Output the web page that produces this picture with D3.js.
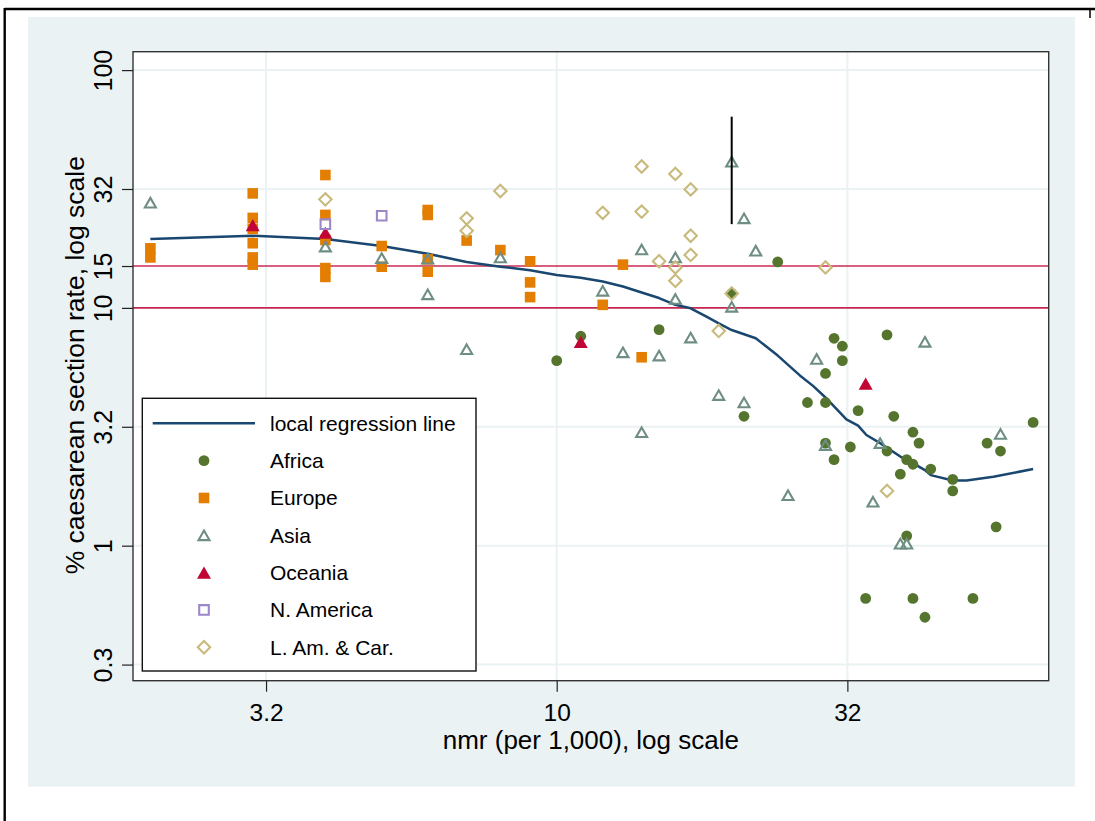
<!DOCTYPE html>
<html>
<head>
<meta charset="utf-8">
<script src="https://cdn.jsdelivr.net/npm/d3@7"></script>
<style>
html,body{margin:0;padding:0;background:#fff;}
svg{display:block;}
text{font-family:"Liberation Sans",Arial,Helvetica,sans-serif;fill:#000;}
</style>
</head>
<body>
<svg id="chart" width="1095" height="821"></svg>
<script>
// ---------- data (nmr per 1,000 ; % caesarean section rate) ----------
const categories = ["Africa","Europe","Asia","Oceania","N. America","L. Am. & Car."];
const lineLabel = "local regression line";

const africa = [[10,6.0],[11,7.6],[15,8.1],[20,11.5],[21,3.5],[24,15.6],[27,4.0],[29,5.3],[29,4.0],[29,2.7],[30,7.45],[30,2.3],[31,6.9],[31,6.0],[32,2.6],[33,3.7],[34,0.6],[37,7.7],[37,2.5],[38,3.5],[39,2.0],[40,2.3],[40,1.1],[41,3.0],[41,2.2],[41,0.6],[42,2.7],[43,0.5],[44,2.1],[48,1.9],[48,1.7],[52,0.6],[55,2.7],[57,1.2],[58,2.5],[66,3.3]];
const europe = [[2,17.8],[2,16.3],[3,30.3],[3,23.9],[3,21.5],[3,18.7],[3,16.3],[3,15.2],[4,36.2],[4,24.6],[4,19.3],[4,14.7],[4,13.5],[5,18.2],[5,14.9],[6,25.8],[6,24.6],[6,16.0],[6,14.2],[7,19.2],[8,17.5],[9,15.7],[9,12.8],[9,11.1],[12,10.3],[13,15.2],[14,6.2]];
const asia = [[2,27.7],[4,18.1],[5,16.2],[6,16.1],[6,11.4],[7,6.7],[8,16.3],[12,11.8],[13,6.5],[14,17.6],[14,3.0],[15,6.3],[16,16.3],[16,10.9],[17,7.5],[19,4.3],[20,41.2],[20,10.1],[21,23.8],[21,4.0],[22,17.4],[25,1.63],[28,6.1],[29,2.65],[35,1.53],[36,2.7],[39,1.02],[40,1.02],[43,7.2],[58,2.95]];
const oceania = [[3,22.3],[4,20.7],[11,7.2],[34,4.8]];
const nAmerica = [[4,22.5],[5,24.4]];
const latAm = [[4,28.6],[7,23.8],[7,21.1],[8,31.0],[12,25.1],[14,39.3],[14,25.4],[15,15.7],[16,36.6],[16,14.8],[16,13.0],[17,31.5],[17,20.1],[17,16.7],[19,8.0],[20,11.5],[29,14.8],[37,1.7]];
const loess = [[2.0,19.5],[3.0,20.1],[4.0,19.5],[5.0,18.2],[6.0,16.9],[7.0,15.6],[8.0,14.9],[9.0,14.4],[10,13.75],[11,13.4],[12,12.9],[13,12.3],[14,11.6],[15,11.0],[16,10.3],[17,9.96],[18.1,9.18],[19,8.6],[20,8.07],[22,7.45],[24,6.3],[26.2,5.2],[27.6,4.7],[29,4.2],[31.5,3.4],[33,3.2],[34.1,2.92],[36,2.7],[39,2.37],[40,2.3],[43,2.08],[44,1.98],[48,1.88],[50.7,1.88],[56.4,1.95],[66,2.1]];
const refLines = [15, 10];
const rangeBar = [20, 22.5, 63.7]; // x, low, high

const yTickValues = [Math.sqrt(0.1), 1, Math.sqrt(10), 10, 15, Math.sqrt(1000), 100];
const yTickLabels = ["0.3","1","3.2","10","15","32","100"];
const yGridValues = [Math.sqrt(0.1), 1, Math.sqrt(10), 10, Math.sqrt(1000), 100];
const xTickValues = [Math.sqrt(10), 10, Math.sqrt(1000)];
const xTickLabels = ["3.2","10","32"];
const xTitle = "nmr (per 1,000), log scale";
const yTitle = "% caesarean section rate, log scale";

// ---------- layout ----------
const L = 133, R = 1048.7, T = 51.7, B = 680.7;
const svg = d3.select("#chart");

// outer frame + panel
svg.append("rect").attr("x",28).attr("y",17).attr("width",1047).attr("height",769.7).attr("fill","#eaf2f3");
svg.append("line").attr("x1",4.7).attr("x2",1095).attr("y1",9).attr("y2",9).attr("stroke","#000").attr("stroke-width",2.4);
svg.append("line").attr("x1",4.7).attr("x2",4.7).attr("y1",8).attr("y2",821).attr("stroke","#000").attr("stroke-width",2.4);
svg.append("line").attr("x1",1090).attr("x2",1090).attr("y1",8).attr("y2",18).attr("stroke","#000").attr("stroke-width",1.5);

svg.append("rect").attr("x",L).attr("y",T).attr("width",R-L).attr("height",B-T).attr("fill","#fff");

const x = d3.scaleLog().domain([1.867, 70.2]).range([L, R]);
const y = d3.scaleLog().domain([0.2705, 119.5]).range([B, T]);

// grid
const grid = svg.append("g");
grid.selectAll("line.gy").data(yGridValues).enter().append("line")
  .attr("x1",L).attr("x2",R).attr("y1",d=>y(d)).attr("y2",d=>y(d))
  .attr("stroke","#eaf2f3").attr("stroke-width",2);
grid.selectAll("line.gx").data(xTickValues).enter().append("line")
  .attr("y1",T).attr("y2",B).attr("x1",d=>x(d)).attr("x2",d=>x(d))
  .attr("stroke","#eaf2f3").attr("stroke-width",2);

// reference lines
svg.append("g").selectAll("line").data(refLines).enter().append("line")
  .attr("x1",L).attr("x2",R).attr("y1",d=>y(d)).attr("y2",d=>y(d))
  .attr("stroke","#c10534").attr("stroke-width",1.6).attr("stroke-opacity",0.85);

// local regression line
svg.append("path").datum(loess)
  .attr("d", d3.line().x(d=>x(d[0])).y(d=>y(d[1])))
  .attr("fill","none").attr("stroke","#1a476f").attr("stroke-width",2.5).attr("stroke-linejoin","round");

// marker shapes
function circle(r){ return `M${-r},0A${r},${r} 0 1,0 ${r},0A${r},${r} 0 1,0 ${-r},0Z`; }
function square(s){ const h=s/2; return `M${-h},${-h}H${h}V${h}H${-h}Z`; }
function tri(w,h){ return `M0,${-h/2}L${w/2},${h/2}L${-w/2},${h/2}Z`; }
function diamond(r){ return `M0,${-r}L${r},0L0,${r}L${-r},0Z`; }

const styles = [
  {data:africa,  d:circle(5.4),  fill:"#55752f", stroke:"none", sw:0},
  {data:europe,  d:square(10.6), fill:"#e37e00", stroke:"none", sw:0},
  {data:asia,    d:tri(11,9.6),  fill:"none", stroke:"#6e8e84", sw:2.1},
  {data:oceania, d:tri(14,12.2), fill:"#c10534", stroke:"none", sw:0},
  {data:nAmerica,d:square(9.6),  fill:"none", stroke:"#9c88c9", sw:2.1},
  {data:latAm,   d:diamond(6.2), fill:"none", stroke:"#c8ba7c", sw:2.1}
];

const marks = svg.append("g");
styles.forEach(s=>{
  marks.append("g").selectAll("path").data(s.data).enter().append("path")
    .attr("d", s.d)
    .attr("transform", d=>`translate(${x(d[0])},${y(d[1])})`)
    .attr("fill", s.fill).attr("stroke", s.stroke).attr("stroke-width", s.sw);
});

// vertical range bar
svg.append("line").attr("x1",x(rangeBar[0])).attr("x2",x(rangeBar[0]))
  .attr("y1",y(rangeBar[1])).attr("y2",y(rangeBar[2]))
  .attr("stroke","#000").attr("stroke-width",2);

// plot frame
svg.append("rect").attr("x",L).attr("y",T).attr("width",R-L).attr("height",B-T)
  .attr("fill","none").attr("stroke","#333").attr("stroke-width",1.4);

// axes
const yAxis = svg.append("g").attr("transform",`translate(${L},0)`)
  .call(d3.axisLeft(y).tickValues(yTickValues).tickFormat((d,i)=>yTickLabels[i]).tickSize(11));
yAxis.select(".domain").remove();
yAxis.selectAll(".tick line").attr("stroke","#222").attr("stroke-width",1.2);
yAxis.selectAll(".tick text")
  .attr("x",0).attr("y",-21).attr("dy",0).attr("transform","rotate(-90)")
  .attr("text-anchor","middle").style("font-size","25px").style("font-family","'Liberation Sans',Arial,sans-serif").attr("fill","#000");

const xAxis = svg.append("g").attr("transform",`translate(0,${B})`)
  .call(d3.axisBottom(x).tickValues(xTickValues).tickFormat((d,i)=>xTickLabels[i]).tickSize(11));
xAxis.select(".domain").remove();
xAxis.selectAll(".tick line").attr("stroke","#222").attr("stroke-width",1.2);
xAxis.selectAll(".tick text")
  .attr("y",40).attr("dy",0)
  .attr("text-anchor","middle").style("font-size","24.5px").style("font-family","'Liberation Sans',Arial,sans-serif").attr("fill","#000");

// titles
svg.append("text").attr("x",(L+R)/2).attr("y",749).attr("text-anchor","middle")
  .style("font-size","26px").text(xTitle);
svg.append("text").attr("transform",`translate(84,${(T+B)/2 - 1}) rotate(-90)`).attr("text-anchor","middle")
  .style("font-size","26.5px").text(yTitle);

// legend
const lg = svg.append("g");
lg.append("rect").attr("x",142.3).attr("y",398.3).attr("width",333.7).attr("height",272.7)
  .attr("fill","#fff").attr("stroke","#111").attr("stroke-width",1.4);
const rowY = i => 423.3 + i*37.33;
lg.append("line").attr("x1",152.7).attr("x2",255).attr("y1",rowY(0)).attr("y2",rowY(0))
  .attr("stroke","#1a476f").attr("stroke-width",2.5);
lg.append("text").attr("x",270).attr("y",rowY(0)+7.5).style("font-size","21px").text(lineLabel);
categories.forEach((c,i)=>{
  const s = styles[i];
  lg.append("path").attr("d",s.d).attr("transform",`translate(204,${rowY(i+1)})`)
    .attr("fill",s.fill).attr("stroke",s.stroke).attr("stroke-width",s.sw);
  lg.append("text").attr("x",270).attr("y",rowY(i+1)+7.5).style("font-size","21px").text(c);
});
</script>
</body>
</html>
